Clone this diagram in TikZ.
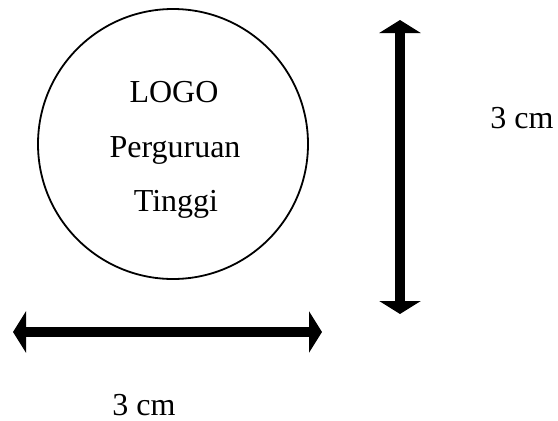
\documentclass[tikz,border=0pt]{standalone}
\usepackage{fontspec}
\setmainfont{Liberation Serif}
\usetikzlibrary{arrows.meta}

\begin{document}
\begin{tikzpicture}[x=1pt, y=-1pt, thick,
  logo node/.style={circle,draw,line width=1.8pt,minimum size=270pt,inner sep=0pt},
  big text/.style={font=\fontsize{32}{38}\selectfont,inner sep=0pt,anchor=base},
  size arrow/.style={line width=10pt,{Triangle[length=13pt,width=41pt]}-{Triangle[length=13pt,width=41pt]}}]

  \useasboundingbox (0,0) rectangle (558,421);

  \node[logo node] (logo) at (173,144) {};
  \node[big text] (l1) at (174,102) {LOGO};
  \node[big text] (l2) at (175,157) {Perguruan};
  \node[big text] (l3) at (176,211) {Tinggi};

  \coordinate (hleft) at (13,332);
  \coordinate (hright) at (322,332);
  \coordinate (vtop) at (400,20);
  \coordinate (vbottom) at (400,314);

  \draw[size arrow] (hleft) -- (hright);
  \draw[size arrow] (vtop) -- (vbottom);

  \node[big text] (wlabel) at (144,415) {3 cm};
  \node[big text] (hlabel) at (522,128) {3 cm};

\end{tikzpicture}
\end{document}
